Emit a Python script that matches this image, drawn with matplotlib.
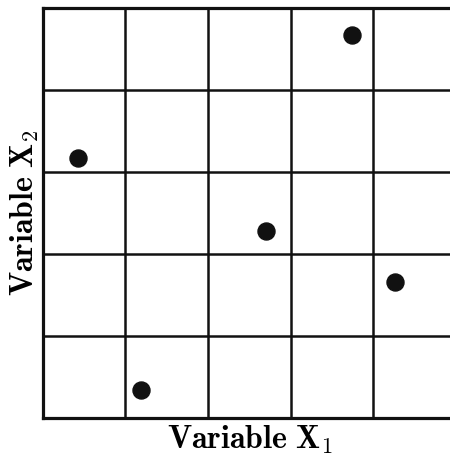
import numpy as np
import matplotlib.pyplot as plt

plt.rcParams["mathtext.fontset"] = "cm"

# point positions in grid units (5 x 5 cells)
x1 = [3.74, 0.43, 2.70, 4.26, 1.19]
x2 = [4.67, 3.17, 2.28, 1.66, 0.35]
n_cells = 5

fig = plt.figure(figsize=(4.5, 4.58), dpi=100)
ax = fig.add_axes([0.0949, 0.0867, 0.9185, 0.8958])

ax.scatter(x1, x2, s=150, color="#111111", zorder=3, clip_on=False)

ax.set_xlim(0, n_cells)
ax.set_ylim(0, n_cells)
ax.set_xticks(np.arange(n_cells + 1))
ax.set_yticks(np.arange(n_cells + 1))
ax.tick_params(length=0, labelbottom=False, labelleft=False)
ax.grid(True, color="#111111", linewidth=1.8)
for sp in ax.spines.values():
    sp.set_linewidth(2.3)
    sp.set_color("#111111")

ax.set_xlabel(r"$\mathbf{Variable\ X_1}$", fontsize=23, labelpad=4)
ax.set_ylabel(r"$\mathbf{Variable\ X_2}$", fontsize=23, labelpad=1)

fig.savefig("out.png", dpi=100)
